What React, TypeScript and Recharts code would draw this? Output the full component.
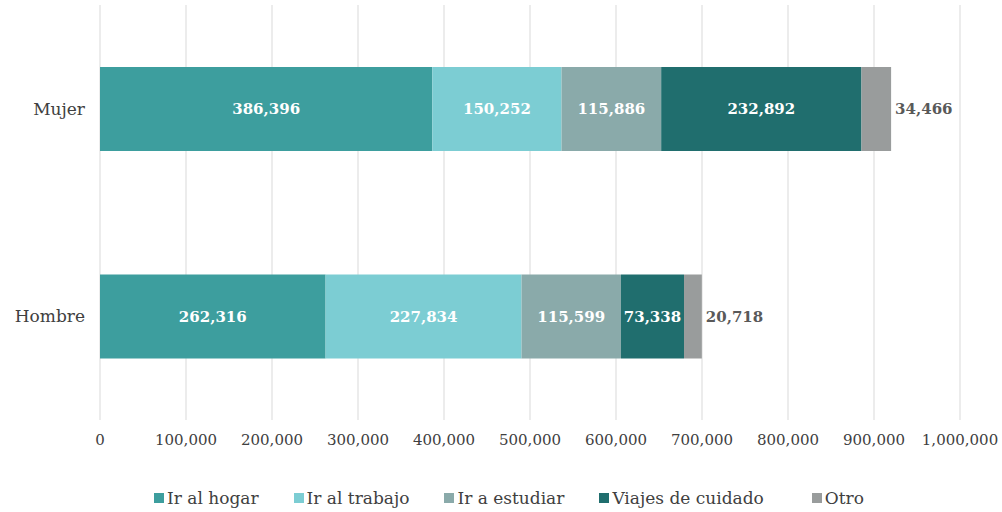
import { BarChart, Bar, XAxis, YAxis, CartesianGrid, Legend, LabelList } from 'recharts'

const categories = ['Mujer', 'Hombre']
const irAlHogar = [386396, 262316]
const irAlTrabajo = [150252, 227834]
const irAEstudiar = [115886, 115599]
const viajesCuidado = [232892, 73338]
const otro = [34466, 20718]
const xTicks = [0, 100000, 200000, 300000, 400000, 500000, 600000, 700000, 800000, 900000, 1000000]

const series = [
  { key: 'hogar', name: 'Ir al hogar', color: '#3d9e9e', values: irAlHogar },
  { key: 'trabajo', name: 'Ir al trabajo', color: '#7ccdd3', values: irAlTrabajo },
  { key: 'estudiar', name: 'Ir a estudiar', color: '#8aaaaa', values: irAEstudiar },
  { key: 'cuidado', name: 'Viajes de cuidado', color: '#206e6e', values: viajesCuidado },
  { key: 'otro', name: 'Otro', color: '#999c9c', values: otro },
]

const data = categories.map((name, i) => {
  const row: Record<string, string | number> = { name }
  series.forEach((s) => {
    row[s.key] = s.values[i]
  })
  return row
})

const FONT = '"DejaVu Serif", serif'
const fmt = (v: number) => Number(v).toLocaleString('en-US')
const order = (name: string) => series.findIndex((s) => s.name === name)

function renderLegend(props: any) {
  const payload = [...(props.payload || [])].sort((a: any, b: any) => order(a.value) - order(b.value))
  return (
    <div style={{ display: 'flex', justifyContent: 'center', gap: 35, paddingLeft: 58, fontFamily: FONT, fontSize: 17, color: '#404040', height: 24, alignItems: 'center' }}>
      {payload.map((p: any) => (
        <div key={p.value} style={{ display: 'flex', alignItems: 'center', marginLeft: p.value === 'Otro' ? 13 : 0 }}>
          <span style={{ display: 'inline-block', width: 10, height: 10, background: p.color, marginRight: 3 }} />
          <span>{p.value}</span>
        </div>
      ))}
    </div>
  )
}

export default function App() {
  return (
    <div style={{ width: 1002, height: 512, background: '#fff' }}>
      <style>{'body { margin: 0; }'}</style>
      <BarChart width={1002} height={512} data={data} layout="vertical" margin={{ top: 5, right: 42, left: 0, bottom: 2 }} barSize={84}>
        <CartesianGrid stroke="#d9d9d9" horizontal={false} />
        <XAxis
          type="number"
          domain={[0, 1000000]}
          ticks={xTicks}
          tickFormatter={(v) => fmt(v as number)}
          axisLine={false}
          tickLine={false}
          tickMargin={8}
          height={66}
          tick={{ fontSize: 15, fill: '#404040', fontFamily: FONT }}
          interval={0}
        />
        <YAxis
          type="category"
          dataKey="name"
          width={100}
          axisLine={false}
          tickLine={false}
          tickMargin={9}
          tick={{ fontSize: 17, fill: '#404040', fontFamily: FONT }}
        />
        <Legend verticalAlign="bottom" content={renderLegend} />
        {series.map((s) => (
          <Bar key={s.key} dataKey={s.key} name={s.name} stackId="a" fill={s.color} isAnimationActive={false}>
            <LabelList
              dataKey={s.key}
              position={s.key === 'otro' ? 'right' : 'center'}
              offset={4}
              formatter={(v: any) => fmt(v)}
              style={{ fill: s.key === 'otro' ? '#595959' : '#ffffff', fontSize: 15, fontWeight: 'bold', fontFamily: FONT }}
            />
          </Bar>
        ))}
      </BarChart>
    </div>
  )
}
